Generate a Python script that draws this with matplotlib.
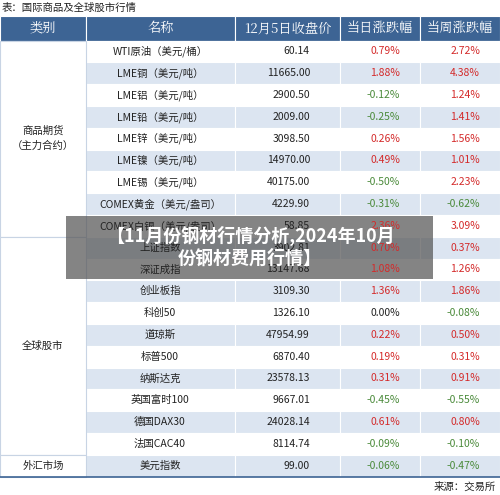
import matplotlib
matplotlib.use("Agg")
import matplotlib.pyplot as plt
from matplotlib.patches import Rectangle

plt.rcParams['font.family'] = ['Noto Sans CJK SC', 'DejaVu Sans']

headers = ["类别", "名称", "12月5日收盘价", "当日涨跌幅", "当周涨跌幅"]
names = ["WTI原油（美元/桶）", "LME铜（美元/吨）", "LME铝（美元/吨）", "LME铅（美元/吨）",
         "LME锌（美元/吨）", "LME镍（美元/吨）", "LME锡（美元/吨）", "COMEX黄金（美元/盎司）",
         "COMEX白银（美元/盎司）", "上证指数", "深证成指", "创业板指", "科创50", "道琼斯",
         "标普500", "纳斯达克", "英国富时100", "德国DAX30", "法国CAC40", "美元指数"]
prices = ["60.14", "11665.00", "2900.50", "2009.00", "3098.50", "14970.00", "40175.00", "4229.90",
          "58.85", "3902.81", "13147.68", "3109.30", "1326.10", "47954.99", "6870.40", "23578.13",
          "9667.01", "24028.14", "8114.74", "99.00"]
day_chg = [0.79, 1.88, -0.12, -0.25, 0.26, 0.49, -0.50, -0.31, 2.36, 0.70, 1.08, 1.36, 0.00,
           0.22, 0.19, 0.31, -0.45, 0.61, -0.09, -0.06]
week_chg = [2.72, 4.38, 1.24, 1.41, 1.56, 1.01, 2.23, -0.62, 3.09, 0.37, 1.26, 1.86, -0.08,
            0.50, 0.31, 0.91, -0.55, 0.80, -0.10, -0.47]
groups = [("商品期货\n（主力合约）", 0, 9), ("全球股市", 9, 19), ("外汇市场", 19, 20)]

col_x = [0, 86, 235, 340, 420, 500]
top, hdr_h, row_h = 16, 24.5, 21.8
header_color = "#3d6494"
stripe = "#dce5f1"

def chg_color(v):
    if v > 0:
        return "#d42a2a"
    if v < 0:
        return "#4a8a3a"
    return "#222222"

fig = plt.figure(figsize=(5, 4.95), dpi=100)
ax = fig.add_axes([0, 0, 1, 1])
ax.set_xlim(0, 500)
ax.set_ylim(495, 0)
ax.axis("off")

ax.text(2, 8, "表：国际商品及全球股市行情", fontsize=7.5, va="center", ha="left", color="#222222")

for i, h in enumerate(headers):
    ax.add_patch(Rectangle((col_x[i], top), col_x[i + 1] - col_x[i], hdr_h,
                           facecolor=header_color, edgecolor="white", lw=0.8))
    ax.text((col_x[i] + col_x[i + 1]) / 2, top + hdr_h / 2, h, color="white",
            fontsize=9.5, ha="center", va="center", family=['Noto Serif CJK SC', 'Noto Sans CJK SC'])

y0 = top + hdr_h
for r in range(len(names)):
    y = y0 + r * row_h
    fc = stripe if r % 2 == 1 else "white"
    for c in range(1, 5):
        ax.add_patch(Rectangle((col_x[c], y), col_x[c + 1] - col_x[c], row_h,
                               facecolor=fc, edgecolor="white", lw=0.8))
    yc = y + row_h / 2
    ax.text(160, yc, names[r], fontsize=7.5, ha="center", va="center", color="#222222")
    ax.text(310, yc, prices[r], fontsize=7.5, ha="right", va="center", color="#222222")
    ax.text(400, yc, f"{day_chg[r]:.2f}%", fontsize=7.5, ha="right", va="center", color=chg_color(day_chg[r]))
    ax.text(480, yc, f"{week_chg[r]:.2f}%", fontsize=7.5, ha="right", va="center", color=chg_color(week_chg[r]))

for label, a, b in groups:
    ya, yb = y0 + a * row_h, y0 + b * row_h
    ax.add_patch(Rectangle((0, ya), 86, yb - ya, facecolor="white", edgecolor="#c8d4e4", lw=0.8))
    ax.text(43, (ya + yb) / 2, label, fontsize=7.5, ha="center", va="center", color="#222222",
            linespacing=1.6)

ax.plot([0, 500], [y0 + 20 * row_h, y0 + 20 * row_h], color="#3d6494", lw=1.2)
ax.text(496, 487, "来源：交易所", fontsize=7.5, ha="right", va="center", color="#222222")

# overlay banner
ax.add_patch(Rectangle((66, 216), 367, 63, facecolor="#555555", alpha=0.72, edgecolor="none"))
ax.text(250, 247, "【11月份钢材行情分析,2024年10月\n份钢材费用行情】", color="white", fontsize=13,
        fontweight="bold", ha="center", va="center", linespacing=1.15)

fig.savefig("out.png", dpi=100)
